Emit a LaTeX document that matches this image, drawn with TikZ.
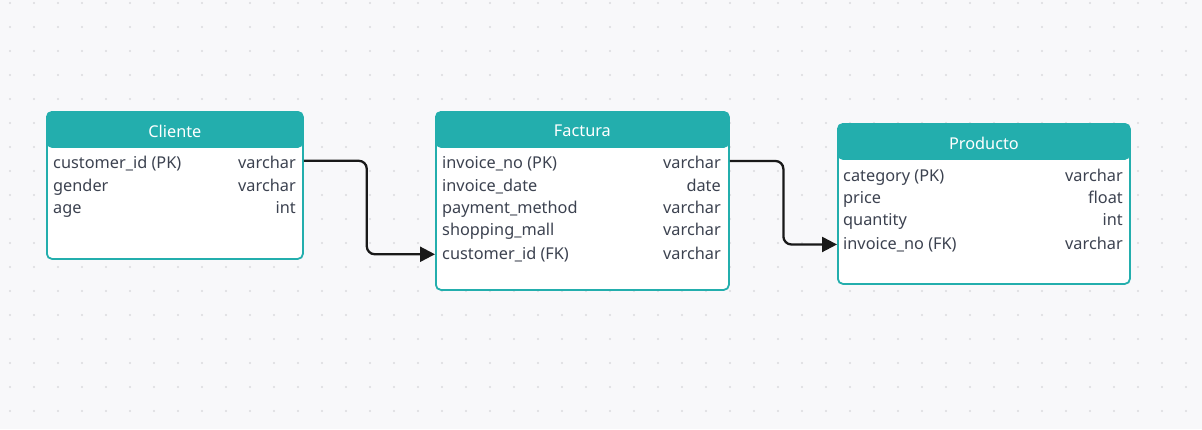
\documentclass[tikz,border=0pt]{standalone}
\usepackage{fontspec}
\setmainfont{Noto Sans}
\usetikzlibrary{arrows.meta,calc}
\definecolor{canvas}{RGB}{248,248,250}
\definecolor{dotgray}{RGB}{218,218,222}
\definecolor{tealhead}{RGB}{35,174,173}
\definecolor{rowtext}{RGB}{60,66,80}
\tikzset{
    tablebox/.style={draw=tealhead, line width=1.8pt, fill=white, rounded corners=5pt,
        anchor=north west, inner sep=0pt,
        path picture={\fill[tealhead] (path picture bounding box.north west)
            rectangle ([yshift=-36pt]path picture bounding box.north east);}},
    tabletitle/.style={text=white, font=\fontsize{16.3}{19}\selectfont},
    colname/.style={anchor=mid west, inner sep=0pt, text=rowtext, font=\fontsize{16.3}{19}\selectfont},
    coltype/.style={anchor=mid east, inner sep=0pt, text=rowtext, font=\fontsize{16.3}{19}\selectfont},
    fkarrow/.style={line width=2.3pt, black!90, rounded corners=8pt, -{Triangle[length=15pt,width=15pt]}}
}
\begin{document}
\begin{tikzpicture}[x=1pt, y=-1pt]
    \useasboundingbox (0,0) rectangle (1202,429);
    \fill[canvas] (0,0) rectangle (1202,429);
    \foreach \i in {0,...,49} \foreach \j in {0,...,17} \fill[dotgray] (10+24*\i, 3+24*\j) circle (1.2);
    % Tables
    \node[tablebox, minimum width=256pt, minimum height=147pt] (cli) at (46,111) {};
    \node[tablebox, minimum width=293pt, minimum height=178pt] (fac) at (435,111) {};
    \node[tablebox, minimum width=292pt, minimum height=160pt] (pro) at (837,123) {};
    \node[tabletitle] (cli-title) at ([yshift=-20pt]cli.north) {Cliente};
    \node[tabletitle] (fac-title) at ([yshift=-20pt]fac.north) {Factura};
    \node[tabletitle] (pro-title) at ([yshift=-20pt]pro.north) {Producto};
    % Cliente rows
    \node[colname] (cli-k1) at (53,166) {customer\_id (PK)}; \node[coltype] (cli-t1) at (296,166) {varchar};
    \node[colname] (cli-k2) at (53,188.5) {gender};           \node[coltype] (cli-t2) at (296,188.5) {varchar};
    \node[colname] (cli-k3) at (53,210.5) {age};              \node[coltype] (cli-t3) at (296,210.5) {int};
    % Factura rows
    \node[colname] (fac-k1) at (442,166) {invoice\_no (PK)};    \node[coltype] (fac-t1) at (721,166) {varchar};
    \node[colname] (fac-k2) at (442,188.5) {invoice\_date};     \node[coltype] (fac-t2) at (721,188.5) {date};
    \node[colname] (fac-k3) at (442,210.5) {payment\_method};   \node[coltype] (fac-t3) at (721,210.5) {varchar};
    \node[colname] (fac-k4) at (442,232.5) {shopping\_mall};    \node[coltype] (fac-t4) at (721,232.5) {varchar};
    \node[colname] (fac-k5) at (442,256.5) {customer\_id (FK)}; \node[coltype] (fac-t5) at (721,256.5) {varchar};
    % Producto rows
    \node[colname] (pro-k1) at (843,178.5) {category (PK)};     \node[coltype] (pro-t1) at (1123,178.5) {varchar};
    \node[colname] (pro-k2) at (843,200.5) {price};             \node[coltype] (pro-t2) at (1123,200.5) {float};
    \node[colname] (pro-k3) at (843,222.5) {quantity};          \node[coltype] (pro-t3) at (1123,222.5) {int};
    \node[colname] (pro-k4) at (843,246.5) {invoice\_no (FK)};  \node[coltype] (pro-t4) at (1123,246.5) {varchar};
    % Relations
    \coordinate (mid1) at ($(cli.east)!0.48!(fac.west)$);
    \coordinate (mid2) at ($(fac.east)!0.5!(pro.west)$);
    \draw[fkarrow] ([yshift=3pt]cli.east |- cli-k1) -| (mid1 |- fac-k5) -- (fac.west |- fac-k5);
    \draw[fkarrow] ([yshift=3pt]fac.east |- fac-k1) -| (mid2 |- pro-k4) -- (pro.west |- pro-k4);
\end{tikzpicture}
\end{document}
